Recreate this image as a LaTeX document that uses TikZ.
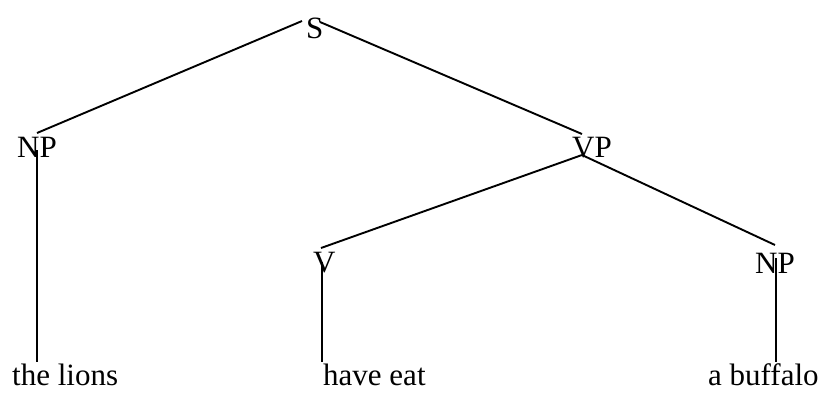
\documentclass[tikz,border=0pt]{standalone}
\usepackage{fontspec}
\setmainfont{Liberation Serif}
\begin{document}
\begin{tikzpicture}[x=1pt,y=-1pt,
  lbl/.style={anchor=base west,inner sep=0pt,font=\fontsize{31}{36}\selectfont},
  edge/.style={line width=1.9pt,black}]
\useasboundingbox (0,0) rectangle (824,392);
% text nodes
\node[lbl] (S)   at (306,38)  {S};
\node[lbl] (NP1) at (17,157)  {NP};
\node[lbl] (VP)  at (572,157) {VP};
\node[lbl] (V)   at (313,272) {V};
\node[lbl] (NP2) at (755,273) {NP};
\node[lbl] (W1)  at (12,385)  {the lions};
\node[lbl] (W2)  at (323,385) {have eat};
\node[lbl] (W3)  at (708,385) {a buffalo};
% attachment points
\coordinate (sL)   at (302,21);
\coordinate (sR)   at (320,22);
\coordinate (np1T) at (37,133);
\coordinate (np1B) at (37,150);
\coordinate (vpT)  at (582,134);
\coordinate (vpB)  at (582,155);
\coordinate (vT)   at (321,248);
\coordinate (vB)   at (322,262);
\coordinate (np2T) at (775,245);
\coordinate (np2B) at (776,258);
\coordinate (w1T)  at (37,362);
\coordinate (w2T)  at (322,362);
\coordinate (w3T)  at (776,362);
% connectors
\draw[edge] (sL) -- (np1T);
\draw[edge] (sR) -- (vpT);
\draw[edge] (np1B) -- (w1T);
\draw[edge] (vpB) -- (vT);
\draw[edge] (vpB) -- (np2T);
\draw[edge] (vB) -- (w2T);
\draw[edge] (np2B) -- (w3T);
\end{tikzpicture}
\end{document}
